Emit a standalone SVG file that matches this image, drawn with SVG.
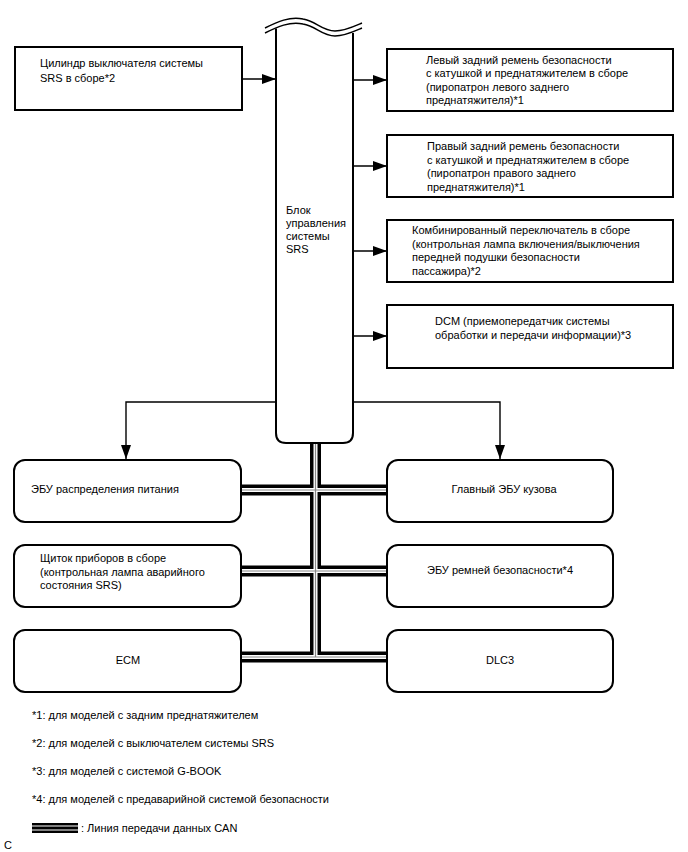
<svg xmlns="http://www.w3.org/2000/svg" width="688" height="852" viewBox="0 0 688 852">
<style>
  text { font-family: "Liberation Sans", Arial, sans-serif; font-size: 11px; fill: #000; }
  .box { fill: #fff; stroke: #000; stroke-width: 2; }
  .ln { fill: none; stroke: #000; stroke-width: 1.4; }
  .busB { fill: none; stroke: #000; stroke-width: 11; }
  .busW { fill: none; stroke: #fff; stroke-width: 4; }
  .busG { fill: none; stroke: #888; stroke-width: 1.2; }
  .mid { text-anchor: middle; }
</style>
<defs>
  <marker id="arr" markerUnits="userSpaceOnUse" markerWidth="14" markerHeight="10" refX="14" refY="5" orient="auto">
    <path d="M0,0 L14,5 L0,10 z" fill="#000"/>
  </marker>
</defs>
<rect width="688" height="852" fill="#fff"/>

<g id="connectors">
  <path class="ln" d="M242,79 H276" marker-end="url(#arr)"/>
  <path class="ln" d="M353,80 H387" marker-end="url(#arr)"/>
  <path class="ln" d="M353,166 H387" marker-end="url(#arr)"/>
  <path class="ln" d="M353,251 H387" marker-end="url(#arr)"/>
  <path class="ln" d="M353,336 H387" marker-end="url(#arr)"/>
  <path class="ln" d="M276,402 H126 V459" marker-end="url(#arr)"/>
  <path class="ln" d="M353,402 H500 V459" marker-end="url(#arr)"/>
  <g id="can-bus">
    <path class="busB" d="M315.5,443 V657 M241,490 H387 M241,571 H387 M241,657 H387"/>
    <path class="busW" d="M315.5,443 V657 M241,490 H387 M241,571 H387 M241,657 H387"/>
    <path class="busG" d="M315.5,443 V657 M241,490 H387 M241,571 H387 M241,657 H387"/>
  </g>
</g>

<g id="srs-ecu">
  <path class="box" d="M276,28.5 V433 Q276,443 286,443 H343 Q353,443 353,433 V33"/>
  <path d="M265,28 C277,22 290,16 303,19 C316,21 322,31 335,31 C345,31 355,26 362,23 L362,28 C355,31 345,36 335,36 C322,36 316,26 303,24 C290,21 277,27 265,33 Z" fill="#fff" stroke="none"/>
  <path class="ln" d="M265,28 C277,22 290,16 303,19 C316,21 322,31 335,31 C345,31 355,26 362,23"/>
  <path class="ln" d="M265,33 C277,27 290,21 303,24 C316,26 322,36 335,36 C345,36 355,31 362,28"/>
  <text x="286" y="214">Блок</text>
  <text x="286" y="227">управления</text>
  <text x="286" y="240">системы</text>
  <text x="286" y="253">SRS</text>
</g>

<g id="switch-cylinder">
  <rect class="box" x="15" y="47" width="227" height="63"/>
  <text x="40" y="67">Цилиндр выключателя системы</text>
  <text x="40" y="82">SRS в сборе*2</text>
</g>

<g id="left-rear-belt">
  <rect class="box" x="387" y="49" width="286" height="62"/>
  <text x="426" y="63.5">Левый задний ремень безопасности</text>
  <text x="426" y="77">с катушкой и преднатяжителем в сборе</text>
  <text x="426" y="90.5">(пиропатрон левого заднего</text>
  <text x="426" y="104">преднатяжителя)*1</text>
</g>

<g id="right-rear-belt">
  <rect class="box" x="387" y="135" width="286" height="62"/>
  <text x="427" y="150">Правый задний ремень безопасности</text>
  <text x="427" y="163.5">с катушкой и преднатяжителем в сборе</text>
  <text x="427" y="177">(пиропатрон правого заднего</text>
  <text x="427" y="190.5">преднатяжителя)*1</text>
</g>

<g id="combination-switch">
  <rect class="box" x="387" y="220" width="286" height="62"/>
  <text x="412" y="234">Комбинированный переключатель в сборе</text>
  <text x="412" y="247.5">(контрольная лампа включения/выключения</text>
  <text x="412" y="261">передней подушки безопасности</text>
  <text x="412" y="274.5">пассажира)*2</text>
</g>

<g id="dcm">
  <rect class="box" x="387" y="305" width="286" height="63"/>
  <text x="435" y="325">DCM (приемопередатчик системы</text>
  <text x="435" y="339">обработки и передачи информации)*3</text>
</g>

<g id="power-ecu">
  <rect class="box" x="14" y="460" width="227" height="62" rx="11"/>
  <text x="31" y="493">ЭБУ распределения питания</text>
</g>

<g id="main-body-ecu">
  <rect class="box" x="387" y="460" width="226" height="62" rx="11"/>
  <text class="mid" x="504" y="493">Главный ЭБУ кузова</text>
</g>

<g id="combination-meter">
  <rect class="box" x="14" y="545" width="227" height="62" rx="11"/>
  <text x="40" y="562">Щиток приборов в сборе</text>
  <text x="40" y="575.5">(контрольная лампа аварийного</text>
  <text x="40" y="589">состояния SRS)</text>
</g>

<g id="seatbelt-ecu">
  <rect class="box" x="387" y="545" width="226" height="62" rx="11"/>
  <text class="mid" x="500" y="574">ЭБУ ремней безопасности*4</text>
</g>

<g id="ecm">
  <rect class="box" x="14" y="630" width="227" height="62" rx="11"/>
  <text class="mid" x="128" y="664">ECM</text>
</g>

<g id="dlc3">
  <rect class="box" x="387" y="630" width="226" height="62" rx="11"/>
  <text class="mid" x="500" y="664">DLC3</text>
</g>

<g id="legend">
  <text x="32" y="719">*1: для моделей с задним преднатяжителем</text>
  <text x="32" y="747">*2: для моделей с выключателем системы SRS</text>
  <text x="32" y="775">*3: для моделей с системой G-BOOK</text>
  <text x="32" y="803">*4: для моделей с предаварийной системой безопасности</text>
  <rect x="32" y="823" width="46" height="10" fill="#000"/>
  <rect x="32" y="825.5" width="46" height="1" fill="#fff"/>
  <rect x="32" y="829.5" width="46" height="1" fill="#fff"/>
  <text x="81" y="832">: Линия передачи данных CAN</text>
  <text x="4" y="849">C</text>
</g>
</svg>
